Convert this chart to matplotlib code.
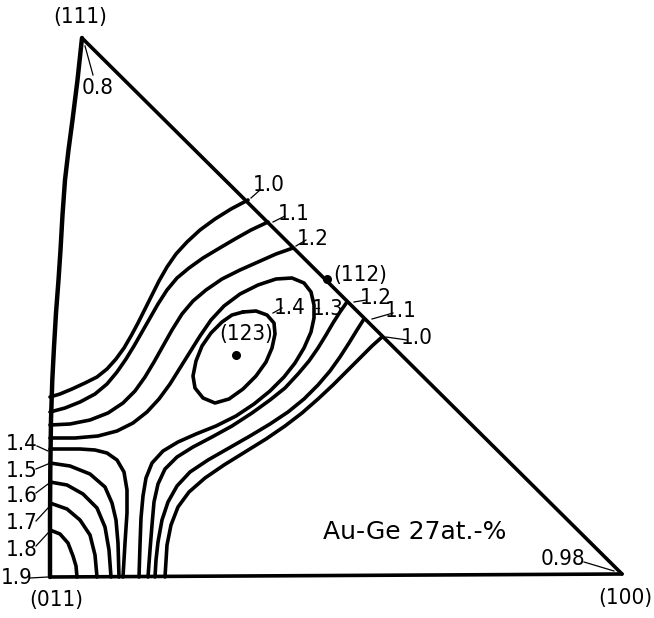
import numpy as np
import matplotlib.pyplot as plt

plt.rcParams['font.family'] = ['DejaVu Sans']
plt.rcParams['font.stretch'] = 'condensed'

# triangle outline (image pixel coords)
edge_left = [(82, 38), (77.5, 80), (72.5, 120), (68.5, 150), (65, 180), (62.5, 215),
             (60.5, 250), (58.5, 280), (56, 313), (54, 347), (52.3, 380), (51, 420),
             (50.3, 470), (50, 520), (50, 577)]
edge_right = [(82, 38), (622, 574)]
edge_bottom = [(50, 577), (622, 574)]

# contour lines, one list per level / branch
c10_upper = [(50, 397), (60, 394), (72, 389), (85, 383), (97, 377), (107, 369), (116, 359),
             (124, 348), (131, 336), (138, 323), (145, 309), (152, 295), (159, 281),
             (167, 267), (176, 254), (187, 242), (200, 230), (215, 219), (231, 209),
             (248, 200)]
c11_upper = [(50, 412), (65, 408), (80, 402), (95, 394), (107, 384), (117, 372), (126, 359),
             (134, 346), (142, 332), (150, 318), (158, 304), (167, 290), (177, 278),
             (189, 268), (203, 258), (218, 249), (235, 239), (251, 230), (268, 222)]
c12_upper = [(50, 425), (70, 424), (90, 420), (108, 413), (123, 403), (135, 391), (145, 377),
             (154, 362), (163, 346), (172, 330), (182, 314), (193, 301), (206, 290),
             (222, 279), (240, 270), (258, 262), (276, 254), (293, 248)]
c13 = [(50, 438), (75, 438), (98, 436), (117, 431), (133, 423), (147, 412), (159, 399),
       (170, 384), (180, 368), (190, 352), (200, 336), (211, 320), (224, 306), (240, 294),
       (258, 285), (276, 279), (292, 278), (304, 283), (311, 292), (314, 305), (314, 318),
       (311, 332), (304, 348), (295, 363), (284, 377), (270, 391), (254, 404), (236, 416),
       (216, 426), (196, 434), (178, 442), (163, 451), (152, 463), (146, 478), (143, 496),
       (141, 518), (140, 545), (139, 577)]
c14_loop = [(243, 312), (256, 311), (267, 315), (274, 323), (275, 334), (272, 348),
            (266, 362), (256, 376), (243, 389), (229, 399), (215, 403), (203, 398),
            (195, 388), (193, 376), (196, 361), (202, 346), (211, 333), (222, 322),
            (232, 315), (243, 312)]
c12_lower = [(347, 302), (340, 312), (333, 323), (326, 335), (318, 348), (309, 361),
             (298, 374), (285, 388), (270, 400), (252, 413), (232, 426), (212, 437),
             (193, 447), (177, 457), (165, 469), (158, 484), (154, 502), (152, 525),
             (150, 550), (148, 577)]
c11_lower = [(364, 319), (357, 330), (349, 343), (340, 357), (330, 371), (318, 385),
             (304, 399), (288, 412), (270, 424), (250, 436), (229, 448), (208, 460),
             (190, 472), (177, 486), (168, 502), (162, 520), (158, 542), (156, 560),
             (155, 577)]
c10_lower = [(382, 337), (372, 346), (360, 358), (347, 371), (333, 385), (318, 399),
             (302, 413), (285, 426), (266, 439), (245, 452), (224, 465), (205, 478),
             (189, 492), (178, 507), (171, 525), (167, 545), (165, 577)]
c14_corner = [(50, 449), (80, 449), (95, 450), (107, 453), (117, 460), (124, 472),
              (127, 490), (127, 513), (125, 543), (123, 577)]
c15 = [(50, 463), (70, 466), (90, 474), (105, 487), (112, 503), (116, 520), (118, 543),
       (119, 577)]
c16 = [(50, 482), (67, 485), (83, 494), (97, 508), (105, 527), (109, 550), (111, 577)]
c17 = [(50, 503), (67, 509), (80, 520), (90, 535), (95, 555), (97, 577)]
c18 = [(50, 530), (60, 534), (68, 543), (73, 556), (76, 566), (77, 577)]

contours = [c10_upper, c11_upper, c12_upper, c13, c14_loop, c12_lower, c11_lower,
            c10_lower, c14_corner, c15, c16, c17, c18]

# labels: text, x, y, leader line
labels = [
    ('0.8', 98, 88, [(85, 46), (93, 75)]),
    ('1.0', 269, 185, [(251, 198), (260, 190)]),
    ('1.1', 294, 214, [(273, 222), (285, 216)]),
    ('1.2', 313, 239, [(296, 246), (306, 240)]),
    ('1.2', 376, 298, [(354, 302), (366, 300)]),
    ('1.1', 401, 311, [(372, 319), (393, 313)]),
    ('1.0', 417, 338, [(386, 337), (407, 340)]),
    ('1.4', 290, 308, [(273, 313), (282, 308)]),
    ('1.3', 328, 309, [(316, 308), (319, 308)]),
    ('1.4', 22, 444, [(37, 446), (48, 451)]),
    ('1.5', 22, 471, [(36, 469), (48, 464)]),
    ('1.6', 22, 496, [(36, 493), (48, 484)]),
    ('1.7', 22, 523, [(36, 521), (48, 508)]),
    ('1.8', 22, 550, [(36, 546), (48, 533)]),
    ('1.9', 17, 578, [(30, 578), (48, 577)]),
    ('0.98', 563, 559, [(584, 562), (614, 571)]),
]
poles = [('(111)', 80, 17), ('(112)', 360, 275), ('(123)', 246, 334),
         ('(011)', 56, 600), ('(100)', 625, 598)]
pole_dots = [(327, 279), (236, 355)]

fig = plt.figure(figsize=(6.54, 6.18), dpi=100)
ax = fig.add_axes([0, 0, 1, 1])
ax.set_xlim(0, 654)
ax.set_ylim(618, 0)
ax.axis('off')

for pts, lw in [(edge_left, 3.2), (edge_right, 2.6), (edge_bottom, 2.6)]:
    xy = np.array(pts)
    ax.plot(xy[:, 0], xy[:, 1], color='black', lw=lw, solid_capstyle='round',
            solid_joinstyle='round')

for c in contours:
    xy = np.array(c)
    ax.plot(xy[:, 0], xy[:, 1], color='black', lw=2.6, solid_capstyle='round',
            solid_joinstyle='round')

for txt, x, y, lead in labels:
    ax.text(x, y, txt, fontsize=16, ha='center', va='center')
    xy = np.array(lead)
    ax.plot(xy[:, 0], xy[:, 1], color='black', lw=0.9)

for txt, x, y in poles:
    ax.text(x, y, txt, fontsize=16, ha='center', va='center', zorder=4)

dots = np.array(pole_dots)
ax.scatter(dots[:, 0], dots[:, 1], s=30, color='black', zorder=3)

ax.text(415, 532, 'Au-Ge 27at.-%', fontsize=18, ha='center', va='center',
        stretch='normal')

fig.savefig('out.png', dpi=100)
